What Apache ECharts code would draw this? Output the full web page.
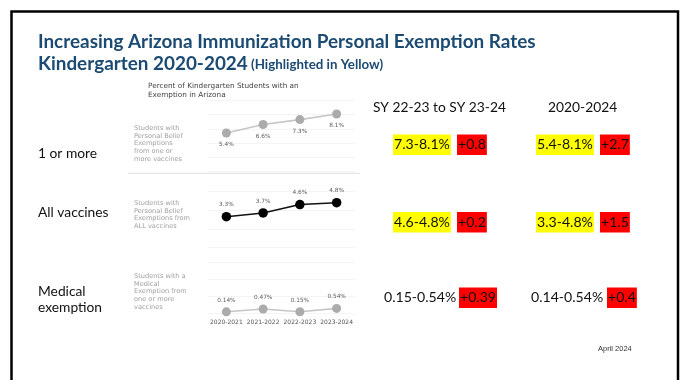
<!DOCTYPE html>
<html>
<head>
<meta charset="utf-8">
<script src="https://cdn.jsdelivr.net/npm/echarts@6/dist/echarts.min.js"></script>
<style>
  html, body { margin: 0; padding: 0; background: #ffffff; }
  #wrap { position: relative; width: 685px; height: 380px; }
  #mini, #slide { position: absolute; left: 0; top: 0; width: 685px; height: 380px; }
  #mini { filter: blur(0.55px); }
</style>
</head>
<body>
<div id="wrap">
  <div id="mini"></div>
  <div id="slide"></div>
</div>
<script>
// School years on the x axis
const years = ['2020-2021', '2021-2022', '2022-2023', '2023-2024'];
// Percent of kindergarten students with an exemption
const personalOneOrMore = [5.4, 6.6, 7.3, 8.1];
const personalAllVaccines = [3.3, 3.7, 4.6, 4.8];
const medicalExemption = [0.14, 0.47, 0.15, 0.54];

const rowLabels = [['1 or more'], ['All vaccines'], ['Medical', 'exemption']];
const columnHeaders = ['SY 22-23 to SY 23-24', '2020-2024'];
const seriesText = [
  ['Students with', 'Personal Belief', 'Exemptions', 'from one or', 'more vaccines'],
  ['Students with', 'Personal Belief', 'Exemptions from', 'ALL vaccines'],
  ['Students with a', 'Medical', 'Exemption from', 'one or more', 'vaccines']
];

const fmt = v => String(parseFloat(v.toFixed(2)));
const rangeText = (a, b) => fmt(a) + '-' + fmt(b) + '%';
const changeText = (a, b) => '+' + fmt(b - a);

// ---------- small multiples: three line charts ----------
const mini = echarts.init(document.getElementById('mini'));
const gridDefs = [
  { top: 100.6, height: 70.4, max: 10 },
  { top: 191.5, height: 56, max: 6 },
  { top: 262, height: 51, max: 6 }
];
const seriesData = [personalOneOrMore, personalAllVaccines, medicalExemption];
const lineColors = ['#c6c6c6', '#111111', '#c6c6c6'];
const dotColors = ['#ababab', '#000000', '#ababab'];
const labelPos = ['bottom', 'top', 'top'];

const miniText = [];
miniText.push({
  type: 'text', left: 148, top: 82,
  style: { text: 'Percent of Kindergarten Students with an\nExemption in Arizona', font: '500 7.3px "DejaVu Sans"', fill: '#444', lineHeight: 8.5 }
});
const textTops = [124, 199, 272];
seriesText.forEach((lines, i) => {
  miniText.push({
    type: 'text', left: 134, top: textTops[i],
    style: { text: lines.join('\n'), font: '6.6px "DejaVu Sans"', fill: '#a0a0a0', lineHeight: 7.9 }
  });
});
miniText.push({ type: 'line', shape: { x1: 128, y1: 173.3, x2: 360, y2: 173.3 }, style: { stroke: '#dedede', lineWidth: 1 } });

mini.setOption({
  animation: false,
  grid: gridDefs.map(g => ({ left: 208, width: 147, top: g.top, height: g.height })),
  xAxis: gridDefs.map((g, i) => ({
    type: 'category', gridIndex: i, data: years, boundaryGap: true,
    axisLine: { show: false }, axisTick: { show: false },
    axisLabel: { show: i === 2, interval: 0, fontSize: 6, color: '#555', margin: 6, fontFamily: 'DejaVu Sans' }
  })),
  yAxis: gridDefs.map((g, i) => ({
    type: 'value', gridIndex: i, min: 0, max: g.max, interval: 2,
    axisLine: { show: false }, axisTick: { show: false }, axisLabel: { show: false },
    splitLine: { show: true, lineStyle: { color: '#f4f4f4', width: 1 } }
  })),
  series: seriesData.map((d, i) => ({
    type: 'line', xAxisIndex: i, yAxisIndex: i, data: d,
    symbol: 'circle', symbolSize: i === 1 ? 9.5 : 9,
    lineStyle: { color: lineColors[i], width: 1.6 },
    itemStyle: { color: dotColors[i] },
    label: {
      show: true, position: labelPos[i], distance: 4,
      formatter: p => p.value + '%', fontSize: 5.8, color: '#5c5c5c', fontFamily: 'DejaVu Sans'
    }
  })),
  graphic: miniText
});

// ---------- slide text, table and frame ----------
const slide = echarts.init(document.getElementById('slide'));
const els = [];
els.push({ type: 'rect', shape: { x: 11.5, y: 11.5, width: 666.5, height: 400 }, style: { fill: 'none', stroke: '#000', lineWidth: 2.5 } });
els.push({ type: 'text', left: 38, top: 32, style: { text: 'Increasing Arizona Immunization Personal Exemption Rates', font: 'bold 18.9px Lato', fill: '#1B4A72' } });
els.push({ type: 'text', left: 38, top: 54, style: { text: 'Kindergarten 2020-2024', font: 'bold 18.9px Lato', fill: '#1B4A72' } });
els.push({ type: 'text', left: 251, top: 58.5, style: { text: '(Highlighted in Yellow)', font: 'bold 13.3px Lato', fill: '#1B4A72' } });

els.push({ type: 'text', left: 38, top: 146.5, style: { text: rowLabels[0].join('\n'), font: '13.8px Lato', fill: '#111' } });
els.push({ type: 'text', left: 38, top: 205.5, style: { text: rowLabels[1].join('\n'), font: '13.8px Lato', fill: '#111' } });
els.push({ type: 'text', left: 38, top: 283.5, style: { text: rowLabels[2].join('\n'), font: '13.8px Lato', fill: '#111', lineHeight: 16 } });

els.push({ type: 'text', left: 373, top: 100.5, style: { text: columnHeaders[0], font: '13.8px Lato', fill: '#111' } });
els.push({ type: 'text', left: 548, top: 100.5, style: { text: columnHeaders[1], font: '13.8px Lato', fill: '#111' } });

function cell(x, y, text, bg) {
  const style = { text: text, font: '14.1px Lato', fill: '#111', lineHeight: 20.5, padding: [0, 1, 0, 1] };
  if (bg) style.backgroundColor = bg;
  return { type: 'text', left: x, top: y, style: style };
}
const boxTops = [134.5, 212, 287.5];
seriesData.forEach((d, i) => {
  const hl = i < 2 ? '#FFFF00' : null;
  const lx = i < 2 ? 393 : 383;
  const rx = i < 2 ? 536 : 530;
  els.push(cell(lx, boxTops[i], rangeText(d[2], d[3]), hl));
  els.push(cell(i < 2 ? 457 : 459, boxTops[i], changeText(d[2], d[3]), '#FF0000'));
  els.push(cell(rx, boxTops[i], rangeText(d[0], d[3]), hl));
  els.push(cell(i < 2 ? 600 : 607, boxTops[i], changeText(d[0], d[3]), '#FF0000'));
});

els.push({ type: 'text', left: 598, top: 345, style: { text: 'April 2024', font: '7.5px "Liberation Sans"', fill: '#333' } });

slide.setOption({ animation: false, graphic: els });
</script>
</body>
</html>
